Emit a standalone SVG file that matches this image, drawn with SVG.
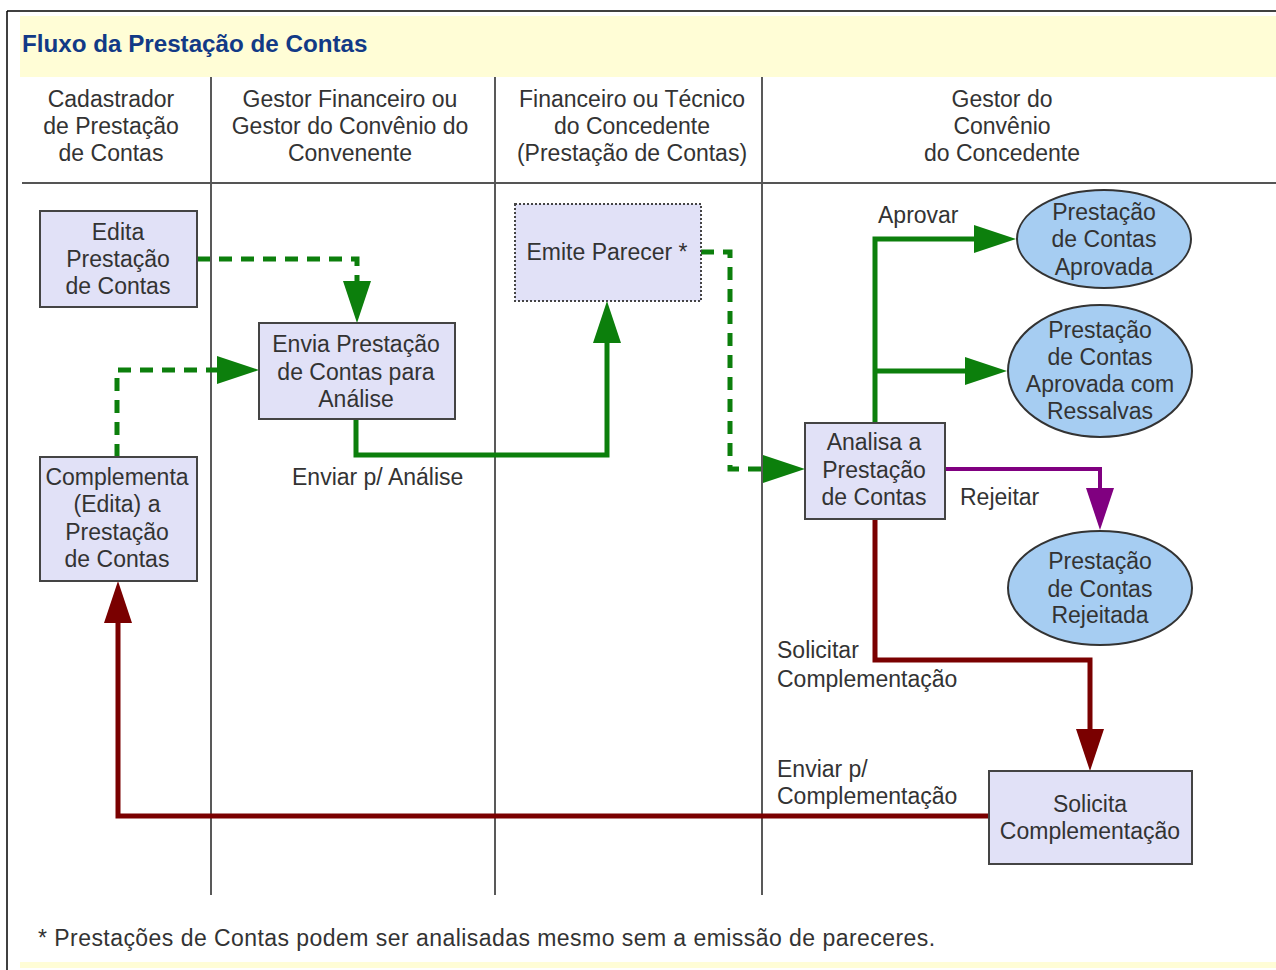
<svg xmlns="http://www.w3.org/2000/svg" width="1276" height="970" viewBox="0 0 1276 970">
<defs>
<style>
text{font-family:"Liberation Sans",Arial,sans-serif;font-size:23px;fill:#333}
.title{font-weight:bold;font-size:24.2px;fill:#123a86}
.c{text-anchor:middle}
.box{fill:#e1e1f7;stroke:#444;stroke-width:2}
.ell{fill:#a6cdf2;stroke:#333;stroke-width:2}
.lane{stroke:#222;stroke-width:1.5}
.g{fill:none;stroke:#0c7f0c;stroke-width:5;marker-end:url(#ag)}
.gd{fill:none;stroke:#0c7f0c;stroke-width:5;stroke-dasharray:13,9;marker-end:url(#ag)}
.p{fill:none;stroke:#800080;stroke-width:4;marker-end:url(#ap)}
.r{fill:none;stroke:#7a0000;stroke-width:5;marker-end:url(#ar)}
</style>
<marker id="ag" markerUnits="userSpaceOnUse" markerWidth="44" markerHeight="28" refX="0" refY="14" orient="auto"><path d="M0,0 L42,14 L0,28 z" fill="#0c7f0c"/></marker>
<marker id="ap" markerUnits="userSpaceOnUse" markerWidth="44" markerHeight="28" refX="0" refY="14" orient="auto"><path d="M0,0 L42,14 L0,28 z" fill="#800080"/></marker>
<marker id="ar" markerUnits="userSpaceOnUse" markerWidth="44" markerHeight="28" refX="0" refY="14" orient="auto"><path d="M0,0 L42,14 L0,28 z" fill="#7a0000"/></marker>
</defs>
<rect x="0" y="0" width="1276" height="970" fill="#fff"/>
<rect x="20" y="16" width="1256" height="61" fill="#fffdd6"/>
<rect x="20" y="962" width="1256" height="6" fill="#fffdd6"/>
<line x1="7" y1="11" x2="1276" y2="11" stroke="#000" stroke-width="1.5"/>
<line x1="7" y1="11" x2="7" y2="970" stroke="#000" stroke-width="1.5"/>
<text class="title" x="22" y="52">Fluxo da Prestação de Contas</text>

<g id="lanes">
<line class="lane" x1="211" y1="77" x2="211" y2="895"/>
<line class="lane" x1="495" y1="77" x2="495" y2="895"/>
<line class="lane" x1="762" y1="77" x2="762" y2="895"/>
<line x1="22" y1="183" x2="1276" y2="183" stroke="#555" stroke-width="2"/>
<text class="c" x="111" y="107">Cadastrador</text>
<text class="c" x="111" y="134">de Prestação</text>
<text class="c" x="111" y="161">de Contas</text>
<text class="c" x="350" y="107">Gestor Financeiro ou</text>
<text class="c" x="350" y="134">Gestor do Convênio do</text>
<text class="c" x="350" y="161">Convenente</text>
<text class="c" x="632" y="107">Financeiro ou Técnico</text>
<text class="c" x="632" y="134">do Concedente</text>
<text class="c" x="632" y="161">(Prestação de Contas)</text>
<text class="c" x="1002" y="107">Gestor do</text>
<text class="c" x="1002" y="134">Convênio</text>
<text class="c" x="1002" y="161">do Concedente</text>
</g>

<g id="connectors">
<path class="gd" d="M197,259 H357 V281"/>
<path class="gd" d="M117,457 V370 H217"/>
<path class="g" d="M356,419 V455 H607 V343"/>
<path class="gd" d="M701,252 H730 V469 H763"/>
<path class="g" d="M875,423 V239 H974"/>
<path class="g" d="M875,371 H965"/>
<path class="p" d="M945,469 H1100 V488"/>
<path class="r" d="M875,519 V660 H1090 V729"/>
<path class="r" d="M989,816 H118 V623" stroke-width="6"/>
<text x="292" y="485">Enviar p/ Análise</text>
<text x="878" y="223">Aprovar</text>
<text x="960" y="505">Rejeitar</text>
<text x="777" y="658">Solicitar</text>
<text x="777" y="687">Complementação</text>
<text x="777" y="777">Enviar p/</text>
<text x="777" y="804">Complementação</text>
</g>

<g id="edita">
<rect class="box" x="40" y="211" width="157" height="96"/>
<text class="c" x="118" y="240">Edita</text>
<text class="c" x="118" y="267">Prestação</text>
<text class="c" x="118" y="294">de Contas</text>
</g>
<g id="envia">
<rect class="box" x="259" y="323" width="196" height="96"/>
<text class="c" x="356" y="352">Envia Prestação</text>
<text class="c" x="356" y="380">de Contas para</text>
<text class="c" x="356" y="407">Análise</text>
</g>
<g id="complementa">
<rect class="box" x="40" y="457" width="157" height="124"/>
<text class="c" x="117" y="485">Complementa</text>
<text class="c" x="117" y="512">(Edita) a</text>
<text class="c" x="117" y="540">Prestação</text>
<text class="c" x="117" y="567">de Contas</text>
</g>
<g id="emite">
<rect class="box" x="515" y="204" width="186" height="97" stroke-dasharray="2,2" stroke-width="1.5"/>
<text class="c" x="607" y="260">Emite Parecer *</text>
</g>
<g id="analisa">
<rect class="box" x="805" y="423" width="140" height="96"/>
<text class="c" x="874" y="450">Analisa a</text>
<text class="c" x="874" y="478">Prestação</text>
<text class="c" x="874" y="505">de Contas</text>
</g>
<g id="solicita">
<rect class="box" x="989" y="771" width="203" height="93"/>
<text class="c" x="1090" y="812">Solicita</text>
<text class="c" x="1090" y="839">Complementação</text>
</g>
<g id="aprovada">
<ellipse class="ell" cx="1104" cy="239" rx="87" ry="49"/>
<text class="c" x="1104" y="220">Prestação</text>
<text class="c" x="1104" y="247">de Contas</text>
<text class="c" x="1104" y="275">Aprovada</text>
</g>
<g id="ressalvas">
<ellipse class="ell" cx="1100" cy="371" rx="92" ry="66"/>
<text class="c" x="1100" y="338">Prestação</text>
<text class="c" x="1100" y="365">de Contas</text>
<text class="c" x="1100" y="392">Aprovada com</text>
<text class="c" x="1100" y="419">Ressalvas</text>
</g>
<g id="rejeitada">
<ellipse class="ell" cx="1100" cy="588" rx="92" ry="57"/>
<text class="c" x="1100" y="569">Prestação</text>
<text class="c" x="1100" y="597">de Contas</text>
<text class="c" x="1100" y="623">Rejeitada</text>
</g>
<text x="38" y="946" letter-spacing="0.45">* Prestações de Contas podem ser analisadas mesmo sem a emissão de pareceres.</text>
</svg>
